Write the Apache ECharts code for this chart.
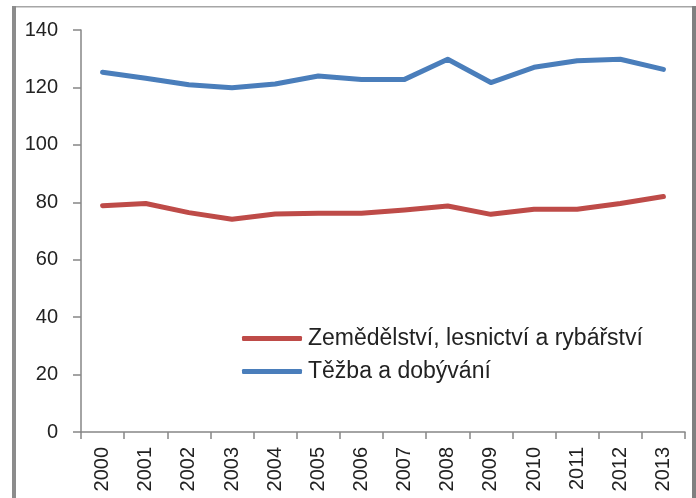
<!DOCTYPE html>
<html>
<head>
<meta charset="utf-8">
<script src="https://cdn.jsdelivr.net/npm/echarts@6/dist/echarts.min.js"></script>
<style>
  html, body { margin: 0; padding: 0; background: #fff; }
  #chart { width: 696px; height: 498px; }
</style>
</head>
<body>
<div id="chart"></div>
<script>
var years = ['2000', '2001', '2002', '2003', '2004', '2005', '2006',
             '2007', '2008', '2009', '2010', '2011', '2012', '2013'];
var zemedelstvi = [78.8, 79.6, 76.4, 74.1, 75.9, 76.2, 76.2, 77.3, 78.7, 75.8, 77.6, 77.6, 79.6, 82.0];
var tezba = [125.3, 123.2, 120.9, 119.9, 121.2, 124.0, 122.8, 122.8, 129.8, 121.7, 127.0, 129.3, 129.8, 126.3];
var yTicks = { min: 0, max: 140, step: 20 };

var myChart = echarts.init(document.getElementById('chart'));
var axisGray = '#868686';

var option = {
  animation: false,
  backgroundColor: '#fff',
  textStyle: { fontFamily: 'Liberation Sans, Arial, sans-serif' },
  graphic: [
    // frame around the chart
    { type: 'rect', shape: { x: 12, y: 6, width: 684, height: 1.5 }, style: { fill: '#a6a6a6' } },
    { type: 'rect', shape: { x: 12, y: 6, width: 4, height: 492 }, style: { fill: '#8c8c8c' } },
    { type: 'rect', shape: { x: 692, y: 6, width: 4, height: 492 }, style: { fill: '#808080' } }
  ],
  grid: {
    left: 81,
    right: 11,
    top: 30,
    bottom: 66
  },
  legend: {
    orient: 'vertical',
    left: 242,
    top: 327,
    padding: 0,
    icon: 'roundRect',
    itemWidth: 60,
    itemHeight: 5,
    itemGap: 10,
    textStyle: {
      color: '#222',
      fontSize: 23,
      lineHeight: 23,
      padding: [0, 0, 0, 1]
    },
    data: ['Zemědělství, lesnictví a rybářství', 'Těžba a dobývání']
  },
  xAxis: {
    type: 'category',
    data: years,
    boundaryGap: true,
    axisLine: { lineStyle: { color: axisGray, width: 1.5 } },
    axisTick: { show: true, length: 7, lineStyle: { color: axisGray, width: 1.5 } },
    axisLabel: {
      rotate: 90,
      margin: 15,
      color: '#222',
      fontSize: 20,
      interval: 0
    }
  },
  yAxis: {
    type: 'value',
    min: yTicks.min,
    max: yTicks.max,
    interval: yTicks.step,
    splitLine: { show: false },
    axisLine: { show: true, lineStyle: { color: axisGray, width: 1.5 } },
    axisTick: { show: true, length: 8, lineStyle: { color: axisGray, width: 1.5 } },
    axisLabel: {
      margin: 23,
      color: '#222',
      fontSize: 20
    }
  },
  series: [
    {
      name: 'Zemědělství, lesnictví a rybářství',
      type: 'line',
      data: zemedelstvi,
      showSymbol: false,
      symbol: 'none',
      color: '#BE4B48',
      lineStyle: { width: 5, color: '#BE4B48', cap: 'round', join: 'round' }
    },
    {
      name: 'Těžba a dobývání',
      type: 'line',
      data: tezba,
      showSymbol: false,
      symbol: 'none',
      color: '#4A7EBB',
      lineStyle: { width: 5, color: '#4A7EBB', cap: 'round', join: 'round' }
    }
  ]
};

myChart.setOption(option);
</script>
</body>
</html>
